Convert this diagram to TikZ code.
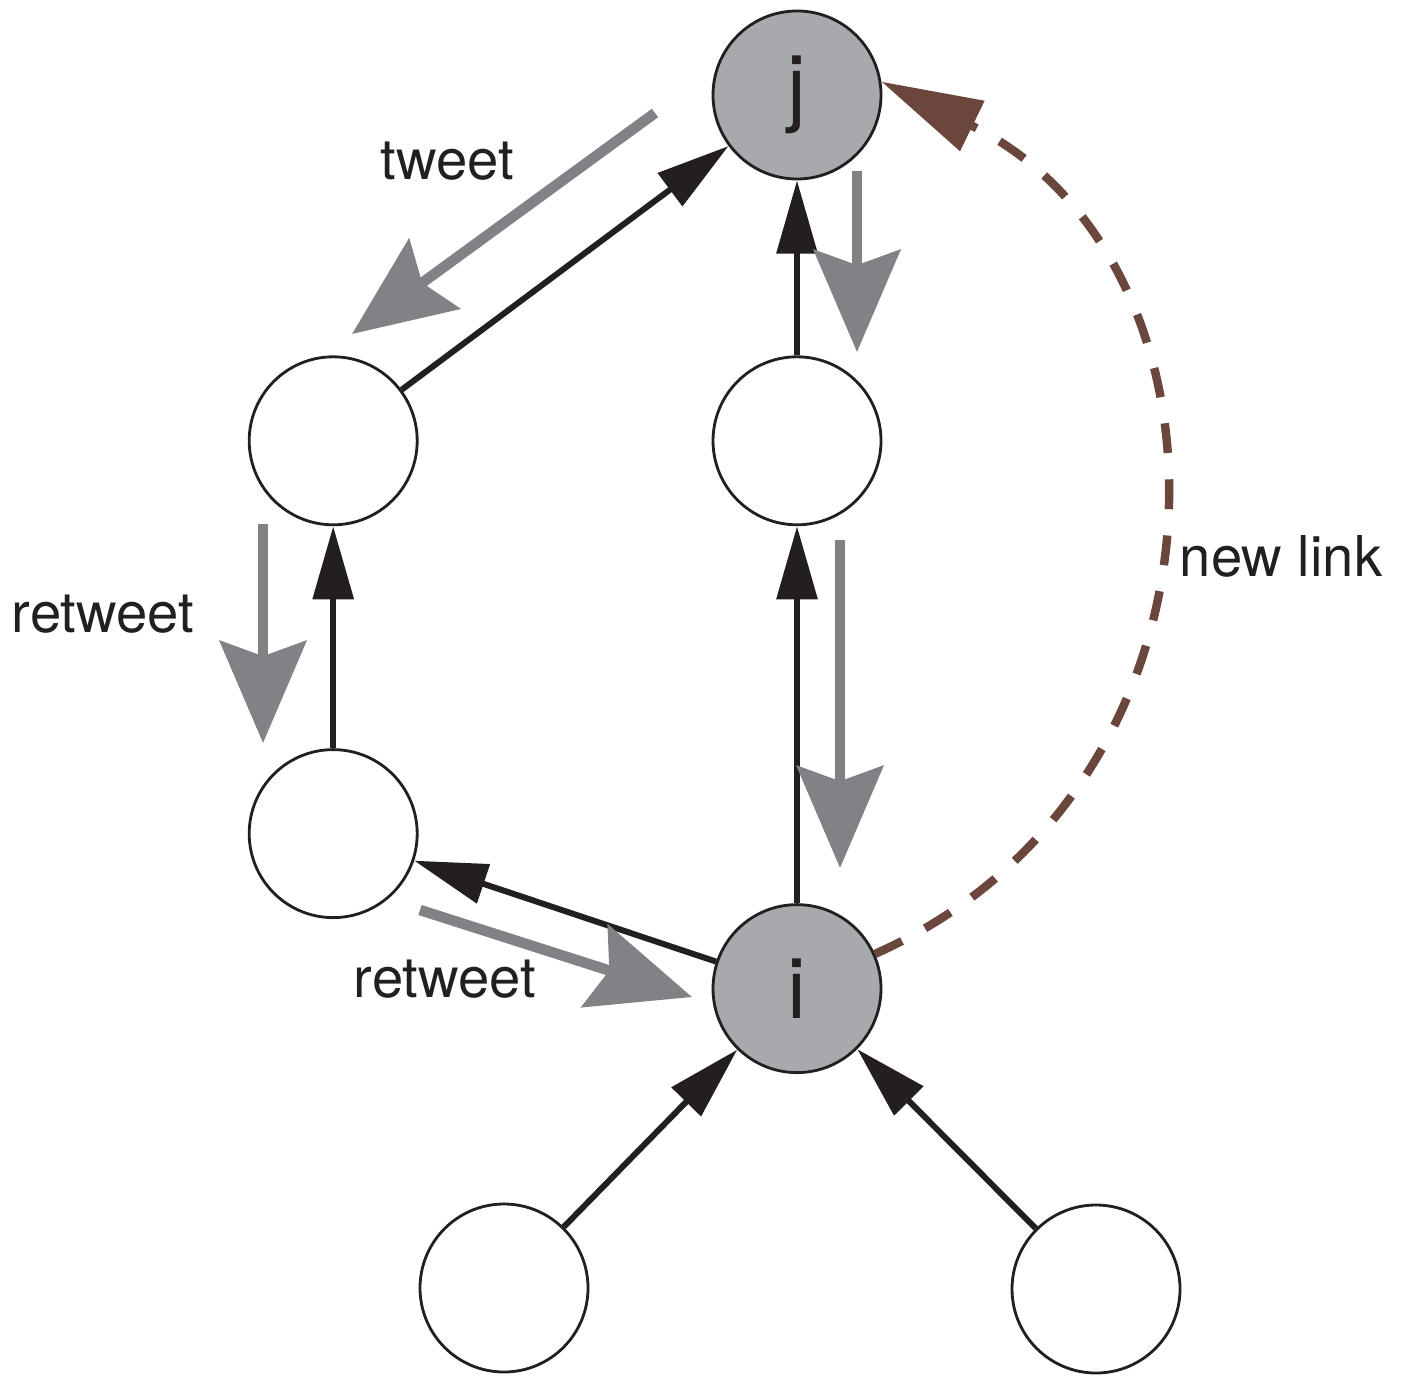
\documentclass[tikz,border=0pt]{standalone}
\usepackage{fontspec}
\setmainfont{TeX Gyre Heros}
\usetikzlibrary{arrows.meta, positioning}
\definecolor{ink}{HTML}{231F20}
\definecolor{hubgray}{HTML}{A7A9AC}
\definecolor{flowgray}{HTML}{808285}
\definecolor{linkbrown}{HTML}{6B463D}

\begin{document}
\begin{tikzpicture}[
    vertex/.style={circle, draw=ink, line width=0.8pt, fill=white, minimum size=1.68cm,
                   inner sep=0pt, text=ink, font=\fontsize{24}{28}\selectfont},
    hub/.style={fill=hubgray},
    follow/.style={-{Triangle[length=20.8pt, width=11.4pt]}, line width=1.7pt, draw=ink},
    flow/.style={-{Stealth[length=29pt, width=24.5pt, inset=4.3pt]}, line width=3pt, draw=flowgray},
    newlink/.style={-{Triangle[length=28.8pt, width=15.3pt]}, line width=2.4pt, draw=linkbrown,
                    dash pattern=on 8.5pt off 7.5pt},
    lbl/.style={anchor=base, text=ink, font=\fontsize{16}{19}\selectfont}
]
\useasboundingbox (0,0) rectangle (14.04,-13.75);
% users
\node[vertex, hub] (j) at (7.97,-0.95) {j};
\node[vertex, below=1.75cm of j] (b) {};
\node[vertex, left=2.93cm of b] (a) {};
\node[vertex, below=2.22cm of a] (c) {};
\node[vertex, hub, below=3.77cm of b] (i) {i};
\node[vertex] (d) at (5.04,-12.88) {};
\node[vertex] (e) at (10.96,-12.89) {};
% follower links
\draw[follow] (a) -- (j);
\draw[follow] (b) -- (j);
\draw[follow] (c) -- (a);
\draw[follow] (i) -- (b);
\draw[follow] (i) -- (c);
\draw[follow] (d) -- (i);
\draw[follow] (e) -- (i);
% message flow
\coordinate (tw-s) at (6.55,-1.13);  \coordinate (tw-e) at (3.52,-3.34);
\coordinate (jb-s) at (8.57,-1.71);  \coordinate (jb-e) at (8.57,-3.52);
\coordinate (ac-s) at (2.63,-5.24);  \coordinate (ac-e) at (2.63,-7.43);
\coordinate (bi-s) at (8.40,-5.40);  \coordinate (bi-e) at (8.40,-8.68);
\coordinate (ci-s) at (4.20,-9.10);  \coordinate (ci-e) at (6.92,-9.97);
\draw[flow] (tw-s) -- (tw-e);
\draw[flow] (jb-s) -- (jb-e);
\draw[flow] (ac-s) -- (ac-e);
\draw[flow] (bi-s) -- (bi-e);
\draw[flow] (ci-s) -- (ci-e);
% new link
\draw[newlink] (i.24) to[out=24, in=-26, looseness=1.2] (j.9);
% labels
\node[lbl] (tweetlbl) at (4.47,-1.80) {tweet};
\node[lbl] (retweetA) at (1.03,-6.33) {retweet};
\node[lbl] (retweetB) at (4.45,-9.97) {retweet};
\node[lbl] (newlbl) at (12.81,-5.77) {new link};
\end{tikzpicture}
\end{document}
